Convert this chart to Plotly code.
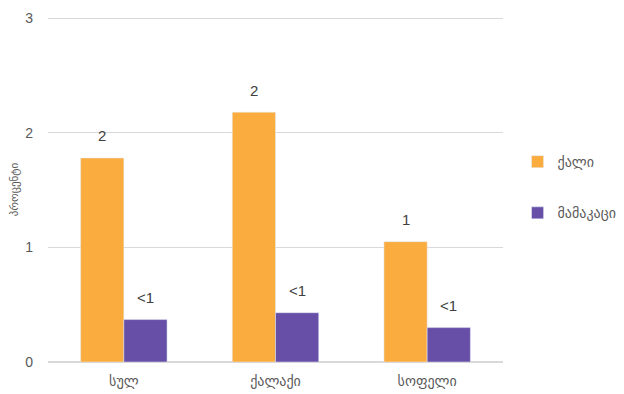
import plotly.graph_objects as go

categories = ["სულ", "ქალაქი", "სოფელი"]
women = [1.78, 2.18, 1.05]
men = [0.37, 0.43, 0.30]
women_labels = ["2", "2", "1"]
men_labels = ["&lt;1", "&lt;1", "&lt;1"]

FONT = "Liberation Sans, DejaVu Sans, sans-serif"

fig = go.Figure()
fig.add_trace(go.Bar(
    x=categories, y=women, name="ქალი", marker_color="#fbac3f",
    legendgroup="a",
))
fig.add_trace(go.Bar(
    x=categories, y=men, name="მამაკაცი", marker_color="#674ea7",
    legendgroup="b",
))

# value labels sit a bit above the bars
for i, cat in enumerate(categories):
    fig.add_annotation(x=cat, y=women[i], text=women_labels[i], xshift=-21.5,
                       yshift=22, showarrow=False,
                       font=dict(size=15, color="#404040", family=FONT))
    fig.add_annotation(x=cat, y=men[i], text=men_labels[i], xshift=21.5,
                       yshift=22, showarrow=False,
                       font=dict(size=15, color="#404040", family=FONT))

# page body adds an 8px offset, so the figure is drawn 8px smaller
fig.update_layout(
    width=616, height=386,
    margin=dict(l=40, r=121, t=9, b=32, autoexpand=False),
    paper_bgcolor="white", plot_bgcolor="white",
    barmode="group", bargap=0.43, bargroupgap=0,
    font=dict(family=FONT, size=14, color="#595959"),
    showlegend=True,
    legend=dict(x=1.032, y=0.626, xanchor="left", yanchor="top",
                itemwidth=30, tracegroupgap=30,
                font=dict(size=14, color="#595959")),
)
fig.update_yaxes(range=[0, 3.01], dtick=1, showgrid=True, gridcolor="#d9d9d9",
                 zeroline=True, zerolinecolor="#d9d9d9", ticks="",
                 ticklabelstandoff=14,
                 title=dict(text="პროცენტი", font=dict(size=11, color="#595959"),
                            standoff=4),
                 tickfont=dict(size=14, color="#595959"))
fig.update_xaxes(showline=True, linecolor="#d9d9d9", ticks="",
                 ticklabelstandoff=6,
                 tickfont=dict(size=14, color="#595959"))

fig.write_html("out.html")
